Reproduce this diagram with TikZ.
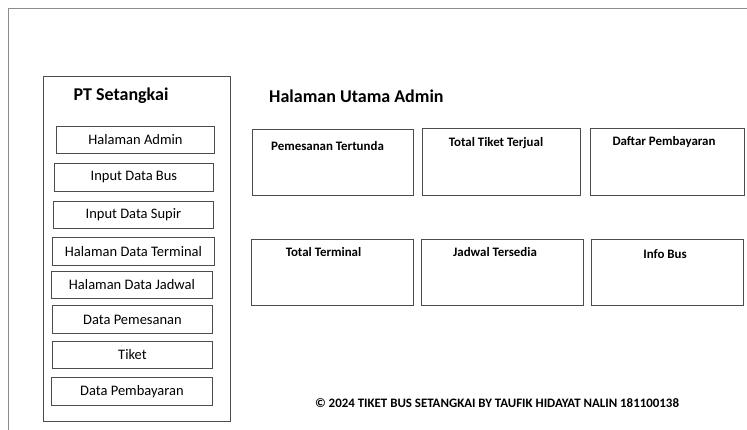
\documentclass[tikz,border=0pt]{standalone}
\usepackage{fontspec}
\setmainfont{Carlito}
\begin{document}
\begin{tikzpicture}[x=1pt,y=-1pt,
  frame/.style={draw=black!45,line width=0.8pt},
  panel/.style={draw=black!70,line width=0.9pt},
  menubox/.style={draw=black!70,line width=0.9pt,inner sep=0pt,font=\fontsize{14.5}{16}\selectfont},
  card/.style={draw=black!70,line width=0.9pt,inner sep=0pt},
  cardlabel/.style={inner sep=0pt,font=\bfseries\fontsize{12.9}{15}\selectfont},
  title/.style={inner sep=0pt,font=\bfseries\fontsize{18}{21}\selectfont}]
\useasboundingbox (0,0) rectangle (747,430);
\fill[white] (0,0) rectangle (747,430);
% outer frame (cut off at right and bottom)
\coordinate (fb) at (8,430);
\coordinate (ft) at (8,8);
\coordinate (fr) at (747,8);
\draw[frame] (fb) -- (ft) -- (fr);
% sidebar
\node[panel,anchor=north west,minimum width=187pt,minimum height=345pt,inner sep=0pt] (side) at (43,76) {};
\node[title] (pt) at (121,96) {PT Setangkai};
\node[menubox,minimum width=158pt,minimum height=27pt,anchor=north west] (m1) at (56,126) {Halaman Admin};
\node[menubox,minimum width=159pt,minimum height=28pt,anchor=north west] (m2) at (54,163) {Input Data Bus};
\node[menubox,minimum width=160pt,minimum height=27pt,anchor=north west] (m3) at (53,201) {Input Data Supir};
\node[menubox,minimum width=162pt,minimum height=28pt,anchor=north west] (m4) at (52,237) {Halaman Data Terminal};
\node[menubox,minimum width=161pt,minimum height=27pt,anchor=north west] (m5) at (51,271) {Halaman Data Jadwal};
\node[menubox,minimum width=160pt,minimum height=28pt,anchor=north west] (m6) at (52,305) {Data Pemesanan};
\node[menubox,minimum width=160pt,minimum height=27pt,anchor=north west] (m7) at (52,341) {Tiket};
\node[menubox,minimum width=161pt,minimum height=28pt,anchor=north west] (m8) at (51,377) {Data Pembayaran};
% main area
\node[title,anchor=west] (ht) at (269,96) {Halaman Utama Admin};
\node[card,anchor=north west,minimum width=161pt,minimum height=66pt] (c1) at (252,129) {};
\node[card,anchor=north west,minimum width=158pt,minimum height=67pt] (c2) at (422,128) {};
\node[card,anchor=north west,minimum width=154pt,minimum height=67pt] (c3) at (590,128) {};
\node[card,anchor=north west,minimum width=162pt,minimum height=66pt] (c4) at (251,239) {};
\node[card,anchor=north west,minimum width=162pt,minimum height=66pt] (c5) at (421,239) {};
\node[card,anchor=north west,minimum width=152pt,minimum height=66pt] (c6) at (591,239) {};
\node[cardlabel] (l1) at (327.5,146) {Pemesanan Tertunda};
\node[cardlabel] (l2) at (496,143) {Total Tiket Terjual};
\node[cardlabel] (l3) at (664,142) {Daftar Pembayaran};
\node[cardlabel] (l4) at (323.5,252) {Total Terminal};
\node[cardlabel] (l5) at (495,252) {Jadwal Tersedia};
\node[cardlabel] (l6) at (665,254) {Info Bus};
\node[cardlabel] (foot) at (497,403) {© 2024 TIKET BUS SETANGKAI BY TAUFIK HIDAYAT NALIN 181100138};
\end{tikzpicture}
\end{document}
